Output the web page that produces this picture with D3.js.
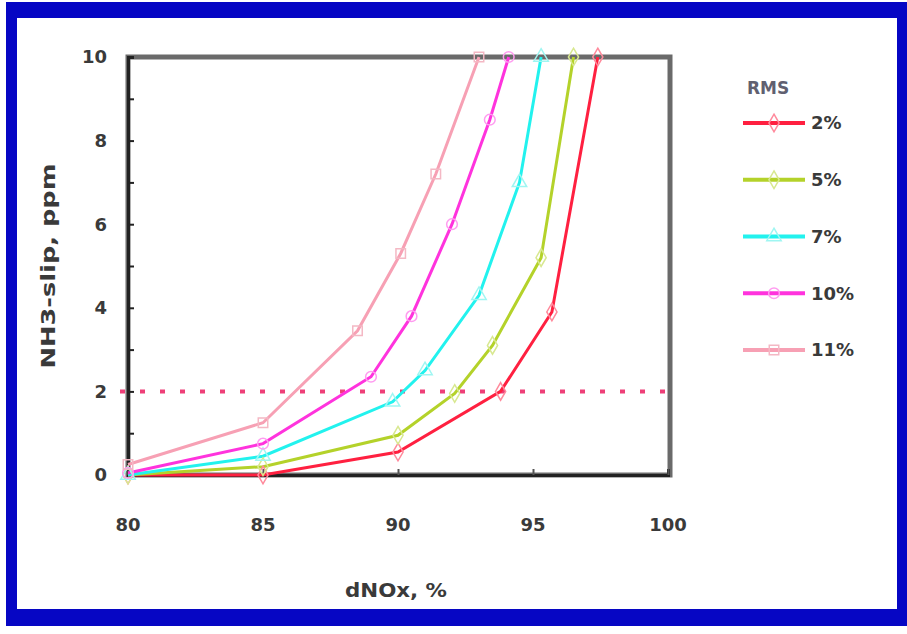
<!DOCTYPE html>
<html>
<head>
<meta charset="utf-8">
<script src="https://cdn.jsdelivr.net/npm/d3@7"></script>
<style>
  body { margin: 0; background: #fff; }
  text { font-family: "DejaVu Sans", sans-serif; font-weight: bold; fill: #3a3a3a; }
</style>
</head>
<body>
<div id="chart"></div>
<script>
// values
const xTicks = [80, 85, 90, 95, 100];
const yTicks = [0, 2, 4, 6, 8, 10];
const seriesNames = ["2%", "5%", "7%", "10%", "11%"];
const rms2 = [[80, 0], [85, 0], [90, 0.55], [93.8, 2.0], [95.7, 3.9], [97.4, 10]];
const rms5 = [[80, 0], [85, 0.2], [90, 0.95], [92.1, 1.95], [93.5, 3.1], [95.3, 5.2], [96.5, 10]];
const rms7 = [[80, 0], [85, 0.45], [89.8, 1.75], [91, 2.5], [93, 4.3], [94.5, 7], [95.3, 10]];
const rms10 = [[80, 0.05], [85, 0.75], [89, 2.35], [90.5, 3.8], [92, 6], [93.4, 8.5], [94.1, 10]];
const rms11 = [[80, 0.25], [85, 1.25], [88.5, 3.45], [90.1, 5.3], [91.4, 7.2], [93, 10]];
const slipLimit = 2;

const colors = ["#ff2040", "#b4d22a", "#22f2ee", "#ff33dd", "#f7a0b4"];
const markerColors = ["#ff8a9c", "#d8e890", "#9ff6f2", "#ff9cf0", "#f4b8c4"];
const symbols = [d3.symbolDiamond, d3.symbolDiamond, d3.symbolTriangle, d3.symbolCircle, d3.symbolSquare];

const series = [rms2, rms5, rms7, rms10, rms11].map((pts, i) => ({
    name: seriesNames[i], pts: pts, color: colors[i], mcolor: markerColors[i], symbol: symbols[i]
}));

const W = 907, H = 634;
const svg = d3.select("#chart").append("svg").attr("width", W).attr("height", H);

// blue frame
svg.append("rect").attr("x", 6).attr("y", 2).attr("width", 901).attr("height", 624).attr("fill", "#0606c4");
svg.append("rect").attr("x", 17).attr("y", 18).attr("width", 880).attr("height", 591).attr("fill", "#fff");

const xScale = d3.scaleLinear().domain([80, 100]).range([128, 668]);
const yScale = d3.scaleLinear().domain([0, 10]).range([475, 57]);

// plot frame (top/right gray)
svg.append("rect")
    .attr("x", xScale(80)).attr("y", yScale(10))
    .attr("width", xScale(100) - xScale(80) + 2).attr("height", yScale(0) - yScale(10))
    .attr("fill", "none").attr("stroke", "#6a6a6a").attr("stroke-width", 5);

// y axis, inward ticks each unit
const yAxis = svg.append("g")
    .attr("transform", `translate(${xScale(80)},0)`)
    .call(d3.axisRight(yScale).tickValues(d3.range(0, 11, 1)).tickSize(6).tickFormat(""));
yAxis.select(".domain").attr("stroke", "#222").attr("stroke-width", 3);
yAxis.selectAll(".tick line").attr("stroke", "#222").attr("stroke-width", 2);

// x axis, inward ticks
const xAxis = svg.append("g")
    .attr("transform", `translate(0,${yScale(0)})`)
    .call(d3.axisTop(xScale).tickValues(xTicks).tickSize(6).tickFormat(""));
xAxis.select(".domain").attr("stroke", "#222").attr("stroke-width", 3);
xAxis.selectAll(".tick line").attr("stroke", "#555").attr("stroke-width", 2);

// tick labels
svg.selectAll(".ylab").data(yTicks).join("text")
    .attr("x", 107).attr("y", d => yScale(d)).attr("dy", "0.36em")
    .attr("text-anchor", "end").style("font-size", "18px").text(d => d);
svg.selectAll(".xlab").data(xTicks).join("text")
    .attr("x", d => xScale(d)).attr("y", 525).attr("dy", "0.36em")
    .attr("text-anchor", "middle").style("font-size", "18px").text(d => d);

// axis titles
svg.append("text").attr("x", 396).attr("y", 590).attr("dy", "0.36em")
    .attr("text-anchor", "middle").style("font-size", "19px")
    .attr("textLength", 102).attr("lengthAdjust", "spacingAndGlyphs").text("dNOx, %");
svg.append("text")
    .attr("transform", `translate(48,266) rotate(-90)`).attr("dy", "0.36em")
    .attr("text-anchor", "middle").style("font-size", "19px")
    .attr("textLength", 205).attr("lengthAdjust", "spacingAndGlyphs").text("NH3-slip, ppm");

// dotted limit line
svg.append("line")
    .attr("x1", xScale(80) - 8).attr("x2", xScale(100))
    .attr("y1", yScale(slipLimit)).attr("y2", yScale(slipLimit))
    .attr("stroke", "#ee3f78").attr("stroke-width", 4).attr("stroke-dasharray", "5,15");

// lines
const line = d3.line().x(d => xScale(d[0])).y(d => yScale(d[1]));
series.forEach(s => {
    svg.append("path").datum(s.pts)
        .attr("fill", "none").attr("stroke", s.color).attr("stroke-width", 3).attr("d", line);
});
series.forEach(s => {
    svg.append("g").selectAll("path").data(s.pts).join("path")
        .attr("transform", d => `translate(${xScale(d[0])},${yScale(d[1])})`)
        .attr("d", d3.symbol().type(s.symbol).size(90))
        .attr("fill", "none").attr("stroke", s.mcolor).attr("stroke-width", 1.5);
});

// legend
svg.append("text").attr("x", 747).attr("y", 88).attr("dy", "0.36em")
    .style("font-size", "17px").style("fill", "#606070").text("RMS");
const legendY = d3.scalePoint().domain(seriesNames).range([123, 350]);
series.forEach(s => {
    const y = legendY(s.name);
    svg.append("line").attr("x1", 743).attr("x2", 805).attr("y1", y).attr("y2", y)
        .attr("stroke", s.color).attr("stroke-width", 4);
    svg.append("path").attr("transform", `translate(774,${y})`)
        .attr("d", d3.symbol().type(s.symbol).size(90))
        .attr("fill", "none").attr("stroke", s.mcolor).attr("stroke-width", 1.5);
    svg.append("text").attr("x", 811).attr("y", y).attr("dy", "0.36em")
        .style("font-size", "18px").text(s.name);
});
</script>
</body>
</html>
